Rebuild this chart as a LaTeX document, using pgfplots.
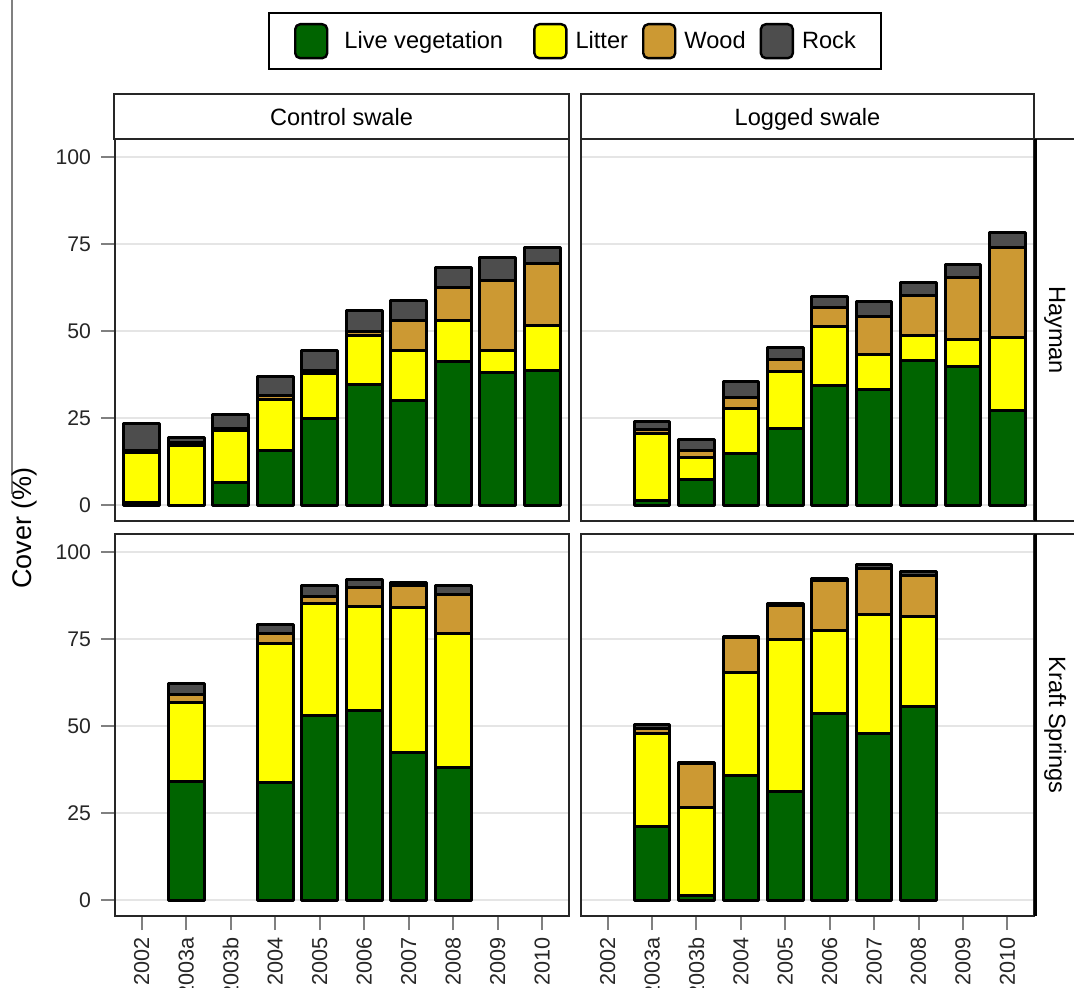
\documentclass[border=0pt]{standalone}
\usepackage{fontspec}
\setmainfont{Liberation Sans}
\usepackage{pgfplots}
\usepackage{pgfplotstable}
\pgfplotsset{compat=1.18}
\definecolor{veg}{HTML}{006400}
\definecolor{lit}{HTML}{FFFF00}
\definecolor{wood}{HTML}{CC9933}
\definecolor{rock}{HTML}{4D4D4D}

% x: 0=2002, 1=2003a, 2=2003b, 3=2004, ..., 9=2010
\pgfplotstableread{
x veg lit wood rock
0 0.8 14.3 0.5 7.8
1 0.0 17.0 1.0 1.4
2 6.5 14.8 0.8 4.0
3 15.6 14.8 1.0 5.4
4 25.0 12.8 0.8 5.7
5 34.5 14.3 1.2 5.8
6 30.1 14.2 8.6 5.8
7 41.2 11.9 9.4 5.7
8 38.1 6.2 20.1 6.7
9 38.6 12.9 17.9 4.6
}\HaymanControl
\pgfplotstableread{
x veg lit wood rock
1 1.4 19.2 1.2 2.1
2 7.3 6.4 1.9 3.2
3 14.8 12.8 3.3 4.5
4 22.1 16.3 3.3 3.6
5 34.3 17.0 5.6 3.0
6 33.3 10.0 10.8 4.4
7 41.4 7.2 11.5 3.8
8 39.7 8.0 17.7 3.8
9 27.3 20.8 25.9 4.3
}\HaymanLogged
\pgfplotstableread{
x veg lit wood rock
1 34.1 22.6 2.3 3.1
3 33.9 39.7 2.9 2.7
4 53.1 32.2 1.9 3.1
5 54.5 29.8 5.4 2.4
6 42.3 41.8 6.2 1.0
7 38.0 38.5 11.2 2.6
}\KraftControl
\pgfplotstableread{
x veg lit wood rock
1 21.0 27.0 1.2 1.3
2 1.4 25.1 12.7 0.3
3 35.9 29.6 10.0 0.3
4 31.3 43.7 9.6 0.7
5 53.7 23.7 14.4 0.7
6 48.0 34.2 13.1 1.0
7 55.7 25.8 11.7 1.1
}\KraftLogged

\pgfplotsset{
  panel/.style={
    scale only axis, width=227pt, height=191pt, anchor=north west,
    xmin=-0.6, xmax=9.6, ymin=-4.6, ymax=105.2,
    ybar stacked, bar width=0.8,
    ytick={0,25,50,75,100}, xtick={0,...,9},
    xticklabels={2002,2003a,2003b,2004,2005,2006,2007,2008,2009,2010},
    ymajorgrids, major grid style={line width=1pt, color=black!10},
    axis line style={line width=0.6pt, black!85},
    tick align=outside, major tick length=7pt,
    tick style={line width=1pt, black!50},
    ytick pos=left, xtick pos=bottom,
    /pgf/number format/assume math mode=true,
    ticklabel style={text=black!85},
    yticklabel style={font=\fontsize{10.6}{12}\selectfont, xshift=-1.5pt},
    xticklabel style={font=\fontsize{10.8}{12}\selectfont, rotate=90, anchor=east},
  },
  bar/.style={draw=black, line width=1.5pt, line join=round,
    legend image code/.code={\draw[##1, rounded corners=2.5pt, line width=1.2pt] (0pt,-8.5pt) rectangle (16pt,8.5pt);}},
  notick x/.style={xticklabels={}, xtick style={draw=none}},
  notick y/.style={yticklabels={}, ytick style={draw=none}},
}

\newcommand{\stripfont}{\fontsize{11.8}{14}\selectfont}

\begin{document}
\begin{tikzpicture}
\path[use as bounding box] (0,0) rectangle (537pt,-493.5pt);
% thin line at left edge
\draw[black!50, line width=0.6pt] (6pt,0pt) -- (6pt,-247pt);
% top strips
\draw[fill=white, line width=0.6pt, draw=black!85] (57pt,-47pt) rectangle (284.5pt,-69.5pt);
\node[font=\stripfont, text height=8.6pt, text depth=2.6pt] at (170.75pt,-59.6pt) {Control swale};
\draw[fill=white, line width=0.6pt, draw=black!85] (290.5pt,-47pt) rectangle (517pt,-69.5pt);
\node[font=\stripfont, text height=8.6pt, text depth=2.6pt] at (403.75pt,-59.6pt) {Logged swale};
% right strips
\draw[line width=0.6pt, black!85] (517pt,-69.5pt) -- (545pt,-69.5pt);
\draw[line width=0.6pt, black!85] (517pt,-260.5pt) -- (545pt,-260.5pt);
\draw[line width=0.6pt, black!85] (517pt,-267pt) -- (545pt,-267pt);
\node[font=\stripfont, rotate=-90, text height=8.6pt, text depth=2.6pt] at (527.5pt,-165pt) {Hayman};
\node[font=\stripfont, rotate=-90, text height=8.6pt, text depth=2.6pt] at (527.5pt,-362.5pt) {Kraft Springs};
% y label
\node[font=\fontsize{13.5}{15}\selectfont, rotate=90] at (12.5pt,-264pt) {Cover (\%)};

% Top-left
\begin{axis}[panel, notick x, at={(57.5pt,-69.5pt)},
  legend columns=4,
  legend style={at={(0.337,1.3325)}, anchor=north west, draw=black, line width=1pt,
    fill=white, font=\stripfont, inner xsep=12.5pt, inner ysep=5pt,
    /tikz/every odd column/.append style={column sep=2pt},
    /tikz/every even column/.append style={column sep=5pt}},
  legend cell align=left]
\addplot[bar, fill=veg] table[x=x, y=veg] {\HaymanControl};
\addplot[bar, fill=lit] table[x=x, y=lit] {\HaymanControl};
\addplot[bar, fill=wood] table[x=x, y=wood] {\HaymanControl};
\addplot[bar, fill=rock] table[x=x, y=rock] {\HaymanControl};
\legend{\hspace*{4pt}Live vegetation\hspace*{8pt}, Litter, Wood, Rock\hspace*{-2pt}}
\end{axis}

% Top-right
\begin{axis}[panel, notick x, notick y, at={(290.5pt,-69.5pt)}, width=226.5pt]
\addplot[bar, fill=veg] table[x=x, y=veg] {\HaymanLogged};
\addplot[bar, fill=lit] table[x=x, y=lit] {\HaymanLogged};
\addplot[bar, fill=wood] table[x=x, y=wood] {\HaymanLogged};
\addplot[bar, fill=rock] table[x=x, y=rock] {\HaymanLogged};
\end{axis}

% Bottom-left
\begin{axis}[panel, at={(57.5pt,-267pt)}]
\addplot[bar, fill=veg] table[x=x, y=veg] {\KraftControl};
\addplot[bar, fill=lit] table[x=x, y=lit] {\KraftControl};
\addplot[bar, fill=wood] table[x=x, y=wood] {\KraftControl};
\addplot[bar, fill=rock] table[x=x, y=rock] {\KraftControl};
\end{axis}

% Bottom-right
\begin{axis}[panel, notick y, at={(290.5pt,-267pt)}, width=226.5pt]
\addplot[bar, fill=veg] table[x=x, y=veg] {\KraftLogged};
\addplot[bar, fill=lit] table[x=x, y=lit] {\KraftLogged};
\addplot[bar, fill=wood] table[x=x, y=wood] {\KraftLogged};
\addplot[bar, fill=rock] table[x=x, y=rock] {\KraftLogged};
\end{axis}

% thick right strip borders
\draw[line width=1.5pt, black] (517.7pt,-69.5pt) -- (517.7pt,-260.5pt);
\draw[line width=1.5pt, black] (517.7pt,-267pt) -- (517.7pt,-458pt);
\end{tikzpicture}
\end{document}
